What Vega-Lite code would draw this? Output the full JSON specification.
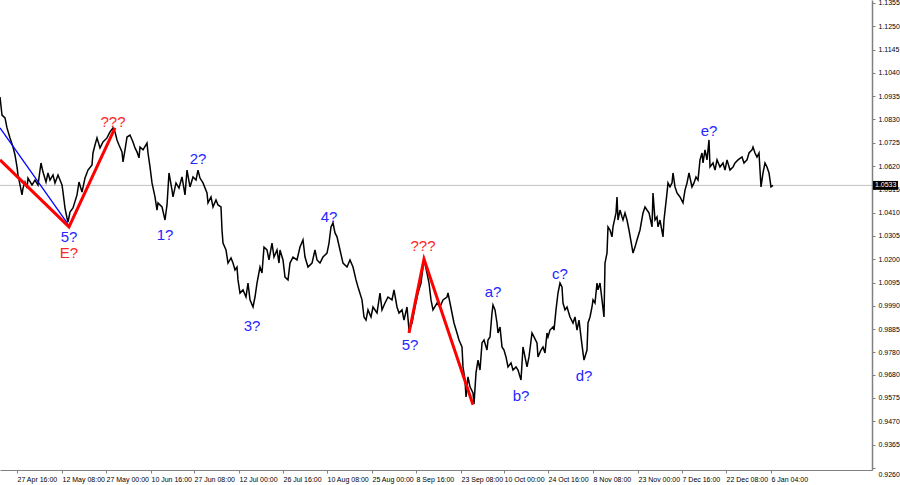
{
"$schema":"https://vega.github.io/schema/vega-lite/v6.json",
"width":872,"height":470,
"autosize":{"type":"none"},
"padding":{"left":0,"top":0,"right":28,"bottom":15},
"background":"white",
"config":{"view":{"stroke":null},"font":"Liberation Sans"},
"datasets":{
"price":[
{"t":0,"p":1.0931},{"t":2,"p":1.0850},{"t":5,"p":1.0837},{"t":7,"p":1.0792},{"t":10,"p":1.0747},{"t":13,"p":1.0706},{"t":15,"p":1.0670},{"t":17,"p":1.0616},{"t":18,"p":1.0580},{"t":20,"p":1.0535},{"t":22,"p":1.0490},{"t":23,"p":1.0521},{"t":25,"p":1.0548},{"t":27,"p":1.0521},{"t":28,"p":1.0566},{"t":32,"p":1.0535},{"t":35,"p":1.0557},{"t":38,"p":1.0535},{"t":41,"p":1.0634},{"t":43,"p":1.0593},{"t":46,"p":1.0548},{"t":48,"p":1.0589},{"t":50,"p":1.0557},{"t":53,"p":1.0580},{"t":55,"p":1.0544},{"t":58,"p":1.0580},{"t":62,"p":1.0535},{"t":63,"p":1.0503},{"t":65,"p":1.0431},{"t":67,"p":1.0386},{"t":68,"p":1.0368},{"t":70,"p":1.0413},{"t":73,"p":1.0431},{"t":77,"p":1.0490},{"t":79,"p":1.0548},{"t":82,"p":1.0503},{"t":85,"p":1.0566},{"t":88,"p":1.0602},{"t":92,"p":1.0625},{"t":93,"p":1.0679},{"t":95,"p":1.0715},{"t":97,"p":1.0747},{"t":100,"p":1.0702},{"t":103,"p":1.0729},{"t":107,"p":1.0747},{"t":110,"p":1.0774},{"t":113,"p":1.0792},{"t":115,"p":1.0774},{"t":117,"p":1.0738},{"t":119,"p":1.0715},{"t":122,"p":1.0684},{"t":123,"p":1.0639},{"t":125,"p":1.0693},{"t":127,"p":1.0751},{"t":130,"p":1.0760},{"t":133,"p":1.0729},{"t":135,"p":1.0702},{"t":137,"p":1.0684},{"t":139,"p":1.0657},
{"t":140,"p":1.0706},{"t":143,"p":1.0693},{"t":147,"p":1.0724},{"t":148,"p":1.0679},{"t":150,"p":1.0616},{"t":152,"p":1.0544},{"t":155,"p":1.0481},{"t":157,"p":1.0422},{"t":158,"p":1.0454},{"t":162,"p":1.0436},{"t":165,"p":1.0377},{"t":167,"p":1.0445},{"t":169,"p":1.0589},{"t":172,"p":1.0512},{"t":173,"p":1.0481},{"t":176,"p":1.0544},{"t":179,"p":1.0521},{"t":182,"p":1.0571},{"t":185,"p":1.0490},{"t":187,"p":1.0602},{"t":190,"p":1.0526},{"t":193,"p":1.0571},{"t":196,"p":1.0557},{"t":198,"p":1.0602},{"t":200,"p":1.0566},{"t":203,"p":1.0544},{"t":207,"p":1.0499},{"t":208,"p":1.0454},{"t":211,"p":1.0481},{"t":213,"p":1.0436},{"t":216,"p":1.0467},{"t":218,"p":1.0445},{"t":221,"p":1.0436},{"t":222,"p":1.0332},{"t":223,"p":1.0273},{"t":226,"p":1.0242},{"t":228,"p":1.0183},{"t":231,"p":1.0206},{"t":233,"p":1.0183},{"t":235,"p":1.0152},{"t":237,"p":1.0165},{"t":238,"p":1.0107},{"t":240,"p":1.0048},{"t":243,"p":1.0062},{"t":246,"p":1.0030},{"t":248,"p":1.0093},{"t":250,"p":1.0017},{"t":253,"p":0.9985},{"t":255,"p":1.0030},{"t":257,"p":1.0093},{"t":260,"p":1.0165},{"t":262,"p":1.0138},{"t":264,"p":1.0255},{"t":267,"p":1.0242},{"t":269,"p":1.0197},{"t":272,"p":1.0273},{"t":274,"p":1.0210},{"t":277,"p":1.0242},{"t":279,"p":1.0183},
{"t":280,"p":1.0242},{"t":283,"p":1.0197},{"t":285,"p":1.0120},{"t":288,"p":1.0107},{"t":290,"p":1.0183},{"t":293,"p":1.0210},{"t":297,"p":1.0197},{"t":300,"p":1.0255},{"t":303,"p":1.0287},{"t":305,"p":1.0210},{"t":308,"p":1.0165},{"t":312,"p":1.0183},{"t":315,"p":1.0242},{"t":317,"p":1.0197},{"t":320,"p":1.0183},{"t":323,"p":1.0210},{"t":327,"p":1.0228},{"t":329,"p":1.0273},{"t":331,"p":1.0346},{"t":333,"p":1.0364},{"t":335,"p":1.0319},{"t":337,"p":1.0301},{"t":340,"p":1.0242},{"t":343,"p":1.0183},{"t":347,"p":1.0165},{"t":350,"p":1.0197},{"t":353,"p":1.0165},{"t":356,"p":1.0107},{"t":358,"p":1.0075},{"t":362,"p":1.0017},{"t":364,"p":0.9940},{"t":366,"p":0.9926},{"t":368,"p":0.9972},{"t":371,"p":0.9940},{"t":373,"p":0.9985},{"t":377,"p":0.9958},{"t":380,"p":1.0048},{"t":382,"p":0.9972},{"t":385,"p":1.0003},{"t":388,"p":1.0030},{"t":392,"p":1.0017},{"t":394,"p":1.0062},{"t":397,"p":0.9985},{"t":399,"p":0.9958},{"t":402,"p":0.9972},{"t":404,"p":0.9926},{"t":407,"p":0.9985},{"t":409,"p":0.9881},{"t":412,"p":0.9913},{"t":415,"p":0.9985},{"t":418,"p":1.0048},{"t":421,"p":1.0093},{"t":423,"p":1.0165},{"t":424,"p":1.0197},{"t":427,"p":1.0138},{"t":429,"p":1.0093},{"t":431,"p":1.0017},
{"t":433,"p":0.9972},{"t":437,"p":1.0003},{"t":440,"p":0.9985},{"t":443,"p":1.0017},{"t":447,"p":1.0030},{"t":448,"p":1.0048},{"t":450,"p":1.0003},{"t":452,"p":0.9958},{"t":454,"p":0.9913},{"t":457,"p":0.9868},{"t":459,"p":0.9836},{"t":462,"p":0.9805},{"t":463,"p":0.9715},{"t":465,"p":0.9656},{"t":466,"p":0.9580},{"t":468,"p":0.9670},{"t":470,"p":0.9625},{"t":473,"p":0.9598},{"t":474,"p":0.9548},{"t":476,"p":0.9688},{"t":478,"p":0.9746},{"t":480,"p":0.9701},{"t":482,"p":0.9823},{"t":484,"p":0.9836},{"t":487,"p":0.9791},{"t":488,"p":0.9836},{"t":490,"p":0.9850},{"t":492,"p":0.9958},{"t":493,"p":0.9994},{"t":495,"p":0.9972},{"t":497,"p":0.9913},{"t":498,"p":0.9868},{"t":500,"p":0.9895},{"t":502,"p":0.9805},{"t":504,"p":0.9791},{"t":506,"p":0.9760},{"t":508,"p":0.9715},{"t":511,"p":0.9733},{"t":513,"p":0.9701},{"t":516,"p":0.9715},{"t":518,"p":0.9701},{"t":521,"p":0.9656},{"t":523,"p":0.9805},{"t":525,"p":0.9760},{"t":527,"p":0.9715},{"t":529,"p":0.9760},{"t":532,"p":0.9868},{"t":534,"p":0.9850},{"t":537,"p":0.9823},{"t":538,"p":0.9760},{"t":541,"p":0.9791},{"t":543,"p":0.9805},{"t":545,"p":0.9778},{"t":547,"p":0.9868},{"t":548,"p":0.9850},{"t":550,"p":0.9881},{"t":553,"p":0.9895},{"t":554,"p":0.9881},{"t":556,"p":0.9972},{"t":558,"p":1.0048},{"t":560,"p":1.0093},{"t":562,"p":1.0075},{"t":563,"p":1.0003},{"t":565,"p":0.9972},{"t":567,"p":0.9985},{"t":570,"p":0.9940},{"t":573,"p":0.9913},{"t":575,"p":0.9940},{"t":577,"p":0.9881},{"t":579,"p":0.9926},{"t":581,"p":0.9850},{"t":583,"p":0.9778},{"t":584,"p":0.9746},{"t":587,"p":0.9791},{"t":588,"p":0.9913},
{"t":590,"p":0.9940},{"t":592,"p":0.9985},{"t":593,"p":1.0017},{"t":595,"p":1.0003},{"t":597,"p":1.0093},{"t":598,"p":1.0062},{"t":600,"p":1.0093},{"t":602,"p":1.0017},{"t":604,"p":0.9940},{"t":605,"p":1.0183},{"t":607,"p":1.0228},{"t":608,"p":1.0346},{"t":610,"p":1.0332},{"t":612,"p":1.0301},{"t":613,"p":1.0346},{"t":616,"p":1.0409},{"t":617,"p":1.0481},{"t":618,"p":1.0377},{"t":620,"p":1.0422},{"t":622,"p":1.0391},{"t":623,"p":1.0377},{"t":625,"p":1.0409},{"t":627,"p":1.0377},{"t":629,"p":1.0332},{"t":632,"p":1.0255},{"t":633,"p":1.0228},{"t":635,"p":1.0255},{"t":637,"p":1.0287},{"t":640,"p":1.0332},{"t":643,"p":1.0409},{"t":645,"p":1.0436},{"t":647,"p":1.0422},{"t":649,"p":1.0409},{"t":652,"p":1.0346},{"t":653,"p":1.0499},{"t":655,"p":1.0377},{"t":657,"p":1.0391},{"t":658,"p":1.0346},{"t":660,"p":1.0377},{"t":663,"p":1.0301},{"t":664,"p":1.0377},{"t":667,"p":1.0499},{"t":668,"p":1.0544},{"t":670,"p":1.0526},{"t":672,"p":1.0544},{"t":673,"p":1.0589},{"t":675,"p":1.0526},{"t":677,"p":1.0499},{"t":680,"p":1.0481},{"t":683,"p":1.0454},{"t":685,"p":1.0512},{"t":687,"p":1.0544},{"t":689,"p":1.0589},{"t":692,"p":1.0526},{"t":694,"p":1.0544},{"t":696,"p":1.0571},{"t":698,"p":1.0557},{"t":700,"p":1.0648},{"t":702,"p":1.0679},{"t":703,"p":1.0634},{"t":705,"p":1.0693},{"t":707,"p":1.0648},{"t":709,"p":1.0738},{"t":710,"p":1.0616},{"t":713,"p":1.0634},{"t":715,"p":1.0602},{"t":717,"p":1.0648},{"t":720,"p":1.0616},{"t":723,"p":1.0634},{"t":725,"p":1.0602},{"t":727,"p":1.0648},{"t":730,"p":1.0602},{"t":733,"p":1.0616},{"t":735,"p":1.0634},{"t":738,"p":1.0648},{"t":742,"p":1.0661},{"t":744,"p":1.0634},{"t":747,"p":1.0648},{"t":749,"p":1.0679},{"t":752,"p":1.0693},{"t":753,"p":1.0706},{"t":755,"p":1.0679},{"t":757,"p":1.0661},{"t":759,"p":1.0679},{"t":761,"p":1.0526},{"t":763,"p":1.0589},{"t":765,"p":1.0634},{"t":767,"p":1.0616},{"t":769,"p":1.0589},{"t":771,"p":1.0526},{"t":773,"p":1.0533}
],
"red":[
{"seg":"A","t":0,"p":1.0648},{"seg":"A","t":69,"p":1.0346},{"seg":"A","t":115,"p":1.0792},
{"seg":"B","t":409,"p":0.9868},{"seg":"B","t":424,"p":1.0201},{"seg":"B","t":473,"p":0.9544}
],
"blue":[{"t":0,"p":1.0792},{"t":68,"p":1.0359}],
"labels":[
{"label":"???","t":113,"p":1.0820,"kind":"alt"},
{"label":"5?","t":69,"p":1.0300,"kind":"main"},
{"label":"E?","t":69,"p":1.0229,"kind":"alt"},
{"label":"1?","t":165,"p":1.0310,"kind":"main"},
{"label":"2?","t":198,"p":1.0652,"kind":"main"},
{"label":"3?","t":252,"p":0.9899,"kind":"main"},
{"label":"4?","t":329,"p":1.0391,"kind":"main"},
{"label":"???","t":423,"p":1.0260,"kind":"alt"},
{"label":"5?","t":410,"p":0.9813,"kind":"main"},
{"label":"a?","t":493,"p":1.0053,"kind":"main"},
{"label":"b?","t":521,"p":0.9584,"kind":"main"},
{"label":"c?","t":560,"p":1.0134,"kind":"main"},
{"label":"d?","t":584,"p":0.9674,"kind":"main"},
{"label":"e?","t":709,"p":1.0778,"kind":"main"}
],
"lastline":[{"t":0,"p":1.0533},{"t":872,"p":1.0533}],
"last":[{"t":875,"p":1.0533}]
},
"encoding":{
  "x":{"field":"t","type":"quantitative","scale":{"domain":[0,872],"nice":false,"zero":false},
   "axis":{"orient":"bottom","title":null,"grid":false,
    "values":[17,62,106,151,194,239,283,327,372,416,461,504,548,593,638,682,726,771],
    "labelExpr":"['27 Apr 16:00','12 May 08:00','27 May 00:00','10 Jun 16:00','27 Jun 08:00','12 Jul 00:00','26 Jul 16:00','10 Aug 08:00','25 Aug 00:00','8 Sep 16:00','23 Sep 08:00','10 Oct 00:00','24 Oct 16:00','8 Nov 08:00','23 Nov 00:00','7 Dec 16:00','22 Dec 08:00','6 Jan 04:00'][indexof([17,62,106,151,194,239,283,327,372,416,461,504,548,593,638,682,726,771],datum.value)]",
    "labelAlign":"left","labelDx":1,"labelFontSize":7,"labelColor":"#000000","labelPadding":2,
    "tickSize":3,"tickColor":"#808080","domainColor":"#808080","domainWidth":1,"labelOverlap":false,"labelFlush":false}},
  "y":{"field":"p","type":"quantitative","scale":{"domain":[0.92504,1.13685],"nice":false,"zero":false},
   "axis":{"orient":"right","title":null,"grid":false,
    "values":[1.1355,1.1250,1.1145,1.1040,1.0935,1.0830,1.0725,1.0620,1.0515,1.0410,1.0305,1.0200,1.0095,0.9990,0.9885,0.9780,0.9680,0.9575,0.9470,0.9365,0.9260],
    "format":".4f","labelFontSize":7,"labelColor":"#000000","labelAlign":"left","labelPadding":3,"labelBaseline":"middle",
    "labelOffset":{"condition":{"test":"datum.value < 0.93","value":7},"value":0},
    "tickSize":3,"tickColor":"#808080","domainColor":"#808080","domainWidth":1.5,"labelOverlap":false,"labelFlush":false}}
},
"layer":[
{"data":{"name":"lastline"},"mark":{"type":"line","color":"#c0c0c0","strokeWidth":1}},
{"data":{"name":"price"},"mark":{"type":"line","color":"#000000","strokeWidth":1.5}},
{"data":{"name":"blue"},"mark":{"type":"line","color":"#0000ff","strokeWidth":1.3}},
{"data":{"name":"red"},"mark":{"type":"line","color":"#ff0000","strokeWidth":3},"encoding":{"detail":{"field":"seg"}}},
{"data":{"name":"labels"},"mark":{"type":"text","fontSize":15,"font":"Liberation Sans","align":"center","baseline":"middle"},
 "encoding":{"text":{"field":"label"},
  "color":{"field":"kind","type":"nominal","scale":{"domain":["main","alt"],"range":["#2626ff","#ff2626"]},"legend":null}}},
{"data":{"name":"last"},"mark":{"type":"rect","color":"#000000"},
 "encoding":{"x":{"datum":873,"type":"quantitative"},"x2":{"datum":898},
  "y":{"datum":1.0553,"type":"quantitative"},"y2":{"datum":1.0513}}},
{"data":{"name":"last"},"mark":{"type":"text","color":"#ffffff","fontSize":7,"align":"left","baseline":"middle"},
 "encoding":{"text":{"field":"p","type":"quantitative","format":".4f"}}}
]
}
